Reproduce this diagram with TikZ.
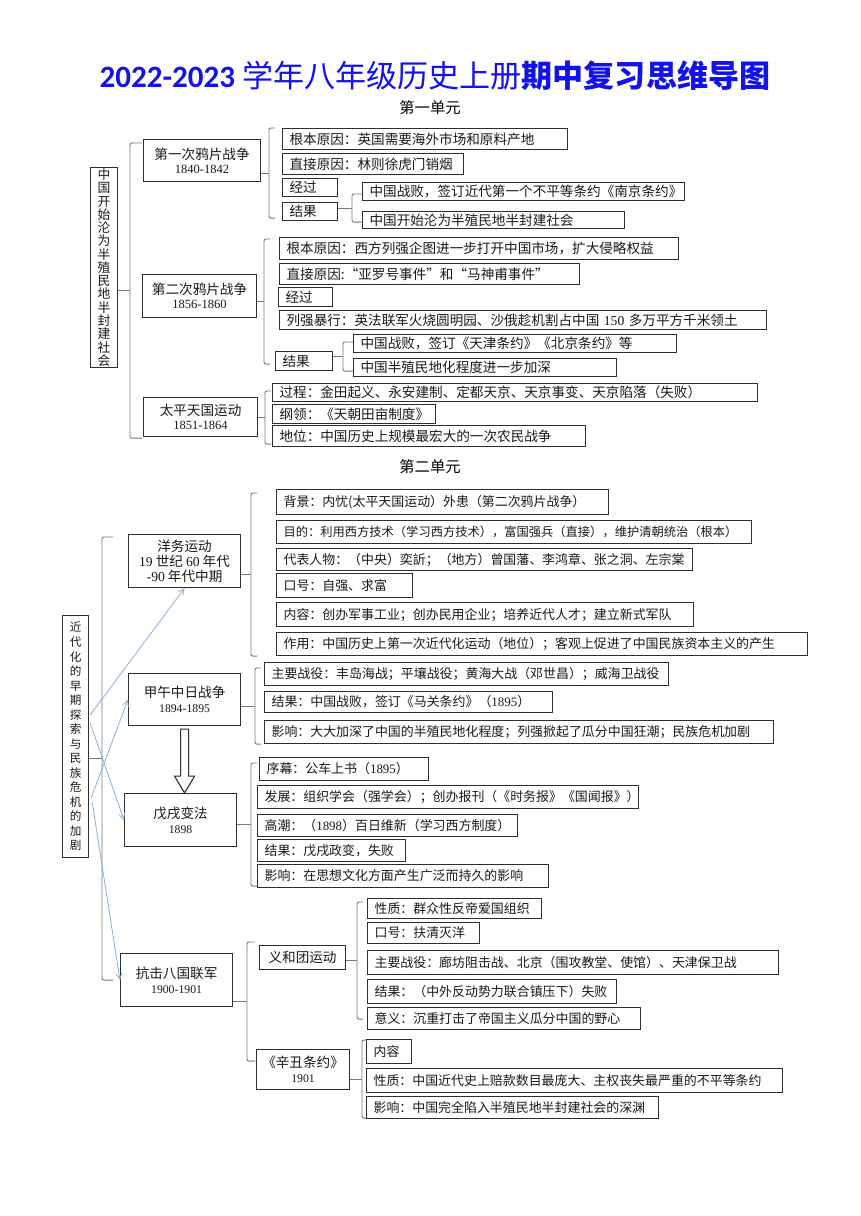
\documentclass[tikz,border=0pt]{standalone}
\usepackage{fontspec}
\setmainfont{Liberation Serif}
\newfontfamily\cjk{Noto Sans CJK SC}
\newfontfamily\carl{Carlito}
\usetikzlibrary{calc,arrows.meta}
\definecolor{ttl}{RGB}{18,18,238}
\definecolor{bline}{RGB}{135,178,218}
\definecolor{bxline}{RGB}{45,45,45}
\definecolor{brline}{RGB}{120,120,120}
\newcommand\yr[1]{{\rmfamily\fontsize{9.4}{10.6}\selectfont #1}}
\newcommand\yrb[1]{{\rmfamily\fontsize{8.8}{11.2}\selectfont #1}}
\newcommand\tm[1]{{\rmfamily #1}}
\newcommand\brk[7]{%
  \coordinate (vv) at (#4,0);
  \coordinate (bT) at ($(vv |- #2.north)+(0,#5)$);
  \coordinate (bB) at ($(vv |- #3.south)+(0,#6)$);
  \coordinate (bM) at ($(bT)!.5!(bB)$);
  \draw[br] ($(bT)+(#7,0)$) -- (bT) -- (bB) -- ($(bB)+(#7,0)$);
  \draw[br] (#1.east |- bM) -- (bM);
}
\begin{document}
\begin{tikzpicture}[x=0.75pt,y=-0.75pt,
  bx/.style={draw=bxline, line width=0.85pt, anchor=north west, inner xsep=5.25pt, inner ysep=0pt, align=left, text=black!90},
  ua/.style={bx, font=\cjk\fontsize{10.2}{12}\selectfont},
  ub/.style={bx, font=\cjk\fontsize{9.7}{12}\selectfont},
  sz/.style n args={2}{text width=#1*0.75pt-10.5pt, minimum height=#2*0.75pt},
  pb/.style={draw=bxline, line width=0.85pt, anchor=north west, inner sep=0pt, align=center, text=black!90},
  psz/.style n args={2}{minimum width=#1*0.75pt, minimum height=#2*0.75pt},
  br/.style={draw=brline, line width=0.7pt, rounded corners=1.5pt},
  barrow/.style={draw=bline, line width=0.6pt, -{Straight Barb[length=4.5pt,width=4.5pt]}},
]
\fill[white] (0,0) rectangle (860,1216);
\useasboundingbox (0,0) rectangle (860,1216);

% title
\node[font=\cjk\fontsize{23.3}{28}\selectfont, text=ttl] (title) at (435,76) {{\carl\bfseries 2022-2023} 学年八年级历史上册{\bfseries 期中复习思维导图}};

% ---------------- unit 1
\node[font=\cjk\fontsize{11.5}{13}\selectfont] (u1t) at (430,108) {第一单元};

\node[pb, psz={27}{200}, font=\cjk\fontsize{9.6}{9.95}\selectfont] (R1) at (90,167) {中\\国\\开\\始\\沦\\为\\半\\殖\\民\\地\\半\\封\\建\\社\\会};

\node[pb, psz={117}{42}, font=\cjk\fontsize{10.2}{10.6}\selectfont] (W1) at (143,139) {第一次鸦片战争\\\yr{1840-1842}};
\node[pb, psz={114}{43}, font=\cjk\fontsize{10.2}{10.6}\selectfont] (W2) at (142,274) {第二次鸦片战争\\\yr{1856-1860}};
\node[pb, psz={114}{39}, font=\cjk\fontsize{10.2}{10.6}\selectfont] (T) at (143,397) {太平天国运动\\\yr{1851-1864}};

\node[ua, sz={285}{21}] (a1) at (282,128) {根本原因：英国需要海外市场和原料产地};
\node[ua, sz={181}{21}] (a2) at (282,153) {直接原因：林则徐虎门销烟};
\node[ua, sz={55}{18}] (a3) at (282,178) {经过};
\node[ua, sz={55}{18}] (a4) at (282,202) {结果};
\node[ua, sz={322}{18}] (a5) at (362,182) {中国战败，签订近代第一个不平等条约《南京条约》};
\node[ua, sz={262}{17}] (a6) at (362,211) {中国开始沦为半殖民地半封建社会};

\node[ua, sz={399}{22}] (b1) at (279,237) {根本原因：西方列强企图进一步打开中国市场，扩大侵略权益};
\node[ua, sz={300}{21}] (b2) at (279,263) {直接原因:“亚罗号事件”和“马神甫事件”};
\node[ua, sz={54}{19}] (b3) at (278,287) {经过};
\node[ua, sz={487}{19}] (b4) at (279,310) {列强暴行：英法联军火烧圆明园、沙俄趁机割占中国~\tm{150}~多万平方千米领土};
\node[ua, sz={57}{19}] (b5) at (275,351) {结果};
\node[ua, sz={323}{18}] (b6) at (353,334) {中国战败，签订《天津条约》《北京条约》等};
\node[ua, sz={263}{18}] (b7) at (353,358) {中国半殖民地化程度进一步加深};

\node[ua, sz={485}{18}] (c1) at (272,383) {过程：金田起义、永安建制、定都天京、天京事变、天京陷落（失败）};
\node[ua, sz={163}{19}] (c2) at (272,404) {纲领：《天朝田亩制度》};
\node[ua, sz={313}{21}] (c3) at (272,425) {地位：中国历史上规模最宏大的一次农民战争};

\brk{R1}{W1}{T}{130}{4}{1}{12}
\brk{W1}{a1}{a4}{269}{0}{-3}{6}
\brk{a4}{a5}{a6}{352}{12}{-7}{10}
\brk{W2}{b1}{b5}{264}{2}{-7}{6}
\brk{b5}{b6}{b7}{343}{8}{-6}{10}
\brk{T}{c1}{c3}{265}{8}{-3}{6}

% ---------------- unit 2
\node[font=\cjk\fontsize{11.5}{13}\selectfont] (u2t) at (430,467) {第二单元};

\node[pb, psz={26}{242}, font=\cjk\fontsize{8.7}{10.9}\selectfont] (R2) at (62,615) {近\\代\\化\\的\\早\\期\\探\\索\\与\\民\\族\\危\\机\\的\\加\\剧};

\node[pb, psz={112}{53}, font=\cjk\fontsize{10.2}{11.2}\selectfont] (Y) at (128,534) {洋务运动\\\tm{19}~世纪~\tm{60}~年代\\\tm{-90}~年代中期};
\node[pb, psz={112}{52}, font=\cjk\fontsize{10.2}{11.2}\selectfont] (J) at (128,673) {甲午中日战争\\\yrb{1894-1895}};
\node[pb, psz={112}{53}, font=\cjk\fontsize{10.2}{11.2}\selectfont] (X) at (124,793) {戊戌变法\\\yrb{1898}};
\node[pb, psz={112}{53}, font=\cjk\fontsize{10.2}{11.2}\selectfont] (K) at (120,953) {抗击八国联军\\\yrb{1900-1901}};

\node[ub, sz={332}{25}] (y1) at (276,489) {背景：内忧(太平天国运动）外患（第二次鸦片战争）};
\node[ub, sz={475}{23}, font=\cjk\fontsize{9.2}{12}\selectfont] (y2) at (276,520) {目的：利用西方技术（学习西方技术），富国强兵（直接），维护清朝统治（根本）};
\node[ub, sz={416}{22}] (y3) at (276,548) {代表人物：（中央）奕訢；（地方）曾国藩、李鸿章、张之洞、左宗棠};
\node[ub, sz={136}{24}] (y4) at (276,573) {口号：自强、求富};
\node[ub, sz={417}{24}] (y5) at (276,602) {内容：创办军事工业；创办民用企业；培养近代人才；建立新式军队};
\node[ub, sz={531}{23}] (y6) at (276,632) {作用：中国历史上第一次近代化运动（地位）；客观上促进了中国民族资本主义的产生};

\node[ub, sz={404}{23}] (j1) at (264,662) {主要战役：丰岛海战；平壤战役；黄海大战（邓世昌）；威海卫战役};
\node[ub, sz={288}{21}] (j2) at (264,691) {结果：中国战败，签订《马关条约》（\tm{1895}）};
\node[ub, sz={509}{23}] (j3) at (264,720) {影响：大大加深了中国的半殖民地化程度；列强掀起了瓜分中国狂潮；民族危机加剧};

\node[ub, sz={169}{23}] (x1) at (259,757) {序幕：公车上书（\tm{1895}）};
\node[ub, sz={381}{23}] (x2) at (257,785) {发展：组织学会（强学会）；创办报刊（《时务报》《国闻报》）};
\node[ub, sz={260}{22}] (x3) at (257,814) {高潮：（\tm{1898}）百日维新（学习西方制度）};
\node[ub, sz={148}{22}] (x4) at (257,839) {结果：戊戌政变，失败};
\node[ub, sz={291}{23}] (x5) at (257,864) {影响：在思想文化方面产生广泛而持久的影响};

\node[pb, psz={86}{24}, font=\cjk\fontsize{10.2}{11.2}\selectfont] (Yh) at (259,945) {义和团运动};
\node[pb, psz={93}{40}, font=\cjk\fontsize{10.2}{11.2}\selectfont] (Xc) at (256,1049) {《辛丑条约》\\\yrb{1901}};

\node[ub, sz={174}{20}] (h1) at (367,898) {性质：群众性反帝爱国组织};
\node[ub, sz={112}{21}] (h2) at (367,922) {口号：扶清灭洋};
\node[ub, sz={411}{24}] (h3) at (367,950) {主要战役：廊坊阻击战、北京（围攻教堂、使馆）、天津保卫战};
\node[ub, sz={249}{24}] (h4) at (367,979) {结果：（中外反动势力联合镇压下）失败};
\node[ub, sz={273}{22}] (h5) at (367,1007) {意义：沉重打击了帝国主义瓜分中国的野心};

\node[ub, sz={45}{24}] (s1) at (366,1039) {内容};
\node[ub, sz={416}{24}] (s2) at (366,1068) {性质：中国近代史上赔款数目最庞大、主权丧失最严重的不平等条约};
\node[ub, sz={292}{22}] (s3) at (366,1096) {影响：中国完全陷入半殖民地半封建社会的深渊};

\brk{R2}{Y}{K}{102}{3}{-27}{11}
\brk{Y}{y1}{y6}{251}{4}{0}{6}
\brk{J}{j1}{j3}{255}{6}{0}{6}
\brk{X}{x1}{x5}{251}{6}{-2}{6}
\brk{K}{Yh}{Xc}{247}{-3}{-29}{8}
\brk{Yh}{h1}{h5}{357}{4}{-11}{6}
\brk{Xc}{s1}{s3}{362}{1}{-1}{4}

% hollow arrow 甲午 -> 戊戌
\draw[draw=bxline, line width=0.8pt, fill=white]
  ($(J.south)+(-4,3)$) -- ($(J.south)+(4,3)$) -- ($(J.south)+(4,50)$) -- ($(J.south)+(10,50)$)
  -- (J.south |- X.north) -- ($(J.south)+(-10,50)$) -- ($(J.south)+(-4,50)$) -- cycle;

% blue arrows
\coordinate (s1p) at ($(R2.north east)+(1,100)$);
\coordinate (s2p) at ($(R2.north east)+(1,108)$);
\coordinate (s3p) at ($(R2.north east)+(2,183)$);
\coordinate (s4p) at ($(R2.north east)+(3,187)$);
\draw[barrow] (s1p) -- (Y.south);
\draw[barrow] (s2p) -- (X.west);
\draw[barrow] (s3p) -- (J.west);
\draw[barrow] (s4p) -- (K.west);
\end{tikzpicture}
\end{document}
